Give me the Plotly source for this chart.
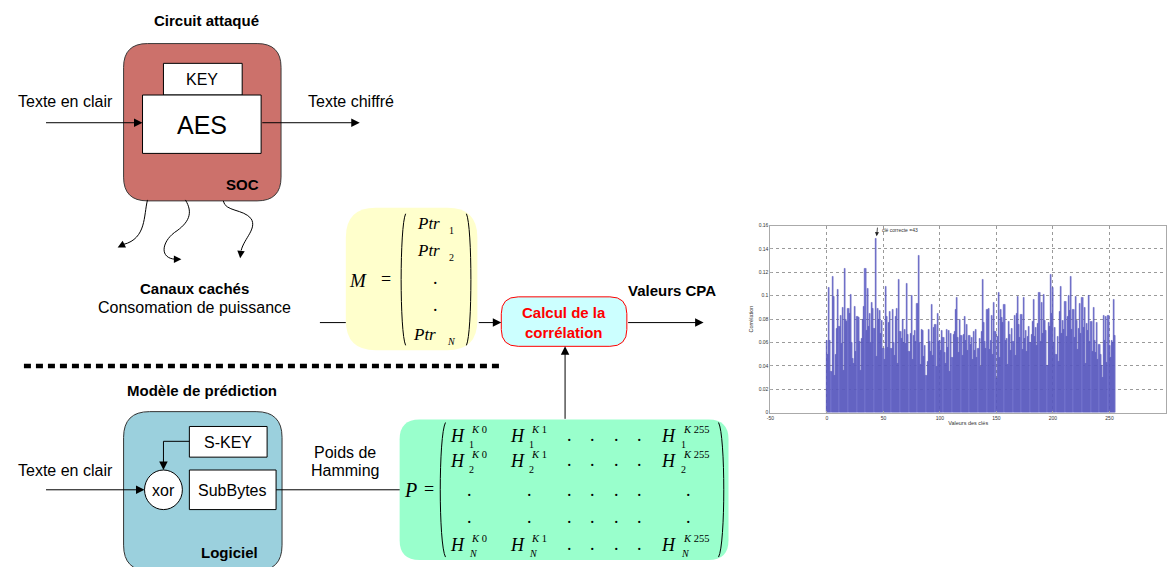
import plotly.graph_objects as go

W, H = 1168, 567

# ---------------- data of the inset CPA chart ----------------
key_values = list(range(256))
correlation = [
    0.062, 0.050, 0.107, 0.062, 0.035, 0.116, 0.099, 0.032, 0.050, 0.072,
    0.105, 0.074, 0.083, 0.059, 0.090, 0.036, 0.123, 0.080, 0.078, 0.089,
    0.085, 0.101, 0.060, 0.046, 0.042, 0.091, 0.052, 0.082, 0.081, 0.061,
    0.036, 0.063, 0.080, 0.091, 0.123, 0.070, 0.106, 0.074, 0.085, 0.060,
    0.094, 0.089, 0.072, 0.149, 0.048, 0.089, 0.080, 0.087, 0.068, 0.079,
    0.055, 0.045, 0.108, 0.082, 0.056, 0.077, 0.086, 0.055, 0.088, 0.060,
    0.049, 0.082, 0.089, 0.042, 0.114, 0.069, 0.063, 0.080, 0.060, 0.071,
    0.059, 0.110, 0.067, 0.052, 0.068, 0.100, 0.045, 0.066, 0.070, 0.061,
    0.093, 0.134, 0.060, 0.041, 0.071, 0.070, 0.048, 0.057, 0.032, 0.044,
    0.071, 0.061, 0.052, 0.092, 0.049, 0.073, 0.075, 0.039, 0.085, 0.061,
    0.062, 0.053, 0.070, 0.064, 0.051, 0.042, 0.071, 0.056, 0.070, 0.035,
    0.068, 0.047, 0.067, 0.069, 0.088, 0.098, 0.064, 0.051, 0.080, 0.066,
    0.049, 0.067, 0.082, 0.062, 0.075, 0.053, 0.066, 0.058, 0.064, 0.045,
    0.069, 0.053, 0.071, 0.047, 0.055, 0.063, 0.039, 0.069, 0.114, 0.077,
    0.061, 0.055, 0.088, 0.089, 0.054, 0.062, 0.083, 0.050, 0.094, 0.069,
    0.029, 0.065, 0.103, 0.047, 0.088, 0.081, 0.077, 0.092, 0.062, 0.063,
    0.041, 0.078, 0.067, 0.053, 0.072, 0.061, 0.083, 0.049, 0.085, 0.099,
    0.075, 0.064, 0.084, 0.054, 0.098, 0.063, 0.070, 0.052, 0.065, 0.074,
    0.060, 0.067, 0.078, 0.097, 0.065, 0.073, 0.057, 0.076, 0.103, 0.061,
    0.094, 0.068, 0.101, 0.079, 0.070, 0.040, 0.077, 0.074, 0.118, 0.085,
    0.107, 0.060, 0.073, 0.050, 0.065, 0.044, 0.086, 0.108, 0.068, 0.079,
    0.071, 0.095, 0.065, 0.082, 0.100, 0.087, 0.116, 0.071, 0.088, 0.064,
    0.099, 0.079, 0.054, 0.072, 0.093, 0.068, 0.098, 0.073, 0.090, 0.042,
    0.076, 0.070, 0.100, 0.061, 0.078, 0.052, 0.090, 0.062, 0.051, 0.077,
    0.045, 0.058, 0.050, 0.040, 0.030, 0.083, 0.062, 0.082, 0.043, 0.083,
    0.057, 0.047, 0.062, 0.060, 0.097, 0.066,
]
x_ticks = [-50, 0, 50, 100, 150, 200, 250, 300]
x_tick_labels = ["-50", "0", "50", "100", "150", "200", "250", "300"]
y_ticks = [0, 0.02, 0.04, 0.06, 0.08, 0.10, 0.12, 0.14, 0.16]
y_tick_labels = ["0", "0.02", "0.04", "0.06", "0.08", "0.1", "0.12", "0.14", "0.16"]
correct_key = 43
correct_label = "clé correcte =43"

SANS = "Liberation Sans, Arial, sans-serif"
SERIF = "Liberation Serif, Times New Roman, serif"


def X(px):
    return px / W


def Y(py):
    return 1 - py / H


def pt(x, y):
    return f"{X(x):.5f},{Y(y):.5f}"


def rrect_path(x0, y0, x1, y1, r):
    return (f"M {pt(x0 + r, y0)} L {pt(x1 - r, y0)} Q {pt(x1, y0)} {pt(x1, y0 + r)} "
            f"L {pt(x1, y1 - r)} Q {pt(x1, y1)} {pt(x1 - r, y1)} "
            f"L {pt(x0 + r, y1)} Q {pt(x0, y1)} {pt(x0, y1 - r)} "
            f"L {pt(x0, y0 + r)} Q {pt(x0, y0)} {pt(x0 + r, y0)} Z")


shapes = []
annotations = []


def add_rrect(x0, y0, x1, y1, r, fill, line=None, lw=1):
    shapes.append(dict(type="path", xref="paper", yref="paper", path=rrect_path(x0, y0, x1, y1, r),
                       fillcolor=fill, line=dict(color=line or fill, width=lw if line else 0), layer="above"))


def add_rect(x0, y0, x1, y1, fill="white", line="black", lw=1):
    shapes.append(dict(type="rect", xref="paper", yref="paper", x0=X(x0), x1=X(x1), y0=Y(y1), y1=Y(y0),
                       fillcolor=fill, line=dict(color=line, width=lw), layer="above"))


def add_line(x0, y0, x1, y1, color="black", lw=1, dash=None):
    d = dict(color=color, width=lw)
    if dash:
        d["dash"] = dash
    shapes.append(dict(type="line", xref="paper", yref="paper", x0=X(x0), y0=Y(y0), x1=X(x1), y1=Y(y1),
                       line=d, layer="above"))


def add_path(path, lw=1, color="black"):
    shapes.append(dict(type="path", xref="paper", yref="paper", path=path,
                       line=dict(color=color, width=lw), layer="above"))


def add_arrow(x0, y0, x1, y1, size=1.7):
    annotations.append(dict(xref="paper", yref="paper", x=X(x1), y=Y(y1), ax=x0 - x1, ay=y0 - y1,
                            axref="pixel", ayref="pixel", text="", showarrow=True,
                            arrowhead=2, arrowsize=size, arrowwidth=1, arrowcolor="black", standoff=0))


def add_text(x, y, text, size=16, color="black", family=SANS, xanchor="center"):
    annotations.append(dict(xref="paper", yref="paper", x=X(x), y=Y(y), text=text, showarrow=False,
                            xanchor=xanchor, yanchor="middle",
                            font=dict(size=size, color=color, family=family)))


# ---------------- top: attacked circuit ----------------
add_text(203, 18, "<b>Circuit attaqué</b>", 15)
add_rrect(120, 41, 278, 200, 24, "#CC716B", "#3a3a3a", 1)
add_rect(160, 61, 239, 93)
add_rect(139, 93, 258, 152)
add_text(199, 77, "KEY", 16)
add_text(199, 123, "AES", 25)
add_text(239, 183, "<b>SOC</b>", 15)
add_text(62, 100, "Texte en clair", 16)
add_text(348, 100, "Texte chiffré", 16)
add_arrow(41, 121, 139, 121)
add_arrow(258, 121, 357, 121)

# wavy side channel arrows
add_path(f"M {pt(144, 199)} C {pt(140, 215)} {pt(143, 238)} {pt(120, 244)}")
add_arrow(122, 243, 114, 247, 1.5)
add_path(f"M {pt(182, 199)} C {pt(190, 212)} {pt(186, 222)} {pt(171, 232)} C {pt(158, 242)} {pt(156, 258)} {pt(172, 259)}")
add_arrow(170, 259, 178, 259, 1.5)
add_path(f"M {pt(220, 200)} C {pt(222, 211)} {pt(240, 208)} {pt(248, 218)} C {pt(254, 228)} {pt(241, 238)} {pt(238, 250)}")
add_arrow(238, 249, 237, 258, 1.5)
add_text(191, 289, "<b>Canaux cachés</b>", 15)
add_text(191, 308, "Consomation de puissance", 16)

# measurement matrix M
add_line(317, 323, 343, 323)
add_rrect(343, 207, 475, 351, 30, "#FFFFCC")
add_path(f"M {pt(403, 213)} C {pt(397, 226)} {pt(397, 333)} {pt(403, 346)}")
add_path(f"M {pt(464, 213)} C {pt(470, 226)} {pt(470, 333)} {pt(464, 346)}")
add_text(355, 280, "<i>M</i>", 19, family=SERIF)
add_text(383, 279, "=", 18, family=SERIF)
for (px, py, sub) in [(426, 223, "1"), (426, 250, "2"), (422, 335, "<i>N</i>")]:
    add_text(px, py, "<i>Ptr</i>", 17, family=SERIF)
    add_text(449, py + 7, sub, 10, family=SERIF)
add_text(433, 277.5, ".", 18, family=SERIF)
add_text(433, 305.5, ".", 18, family=SERIF)

# correlation block
add_arrow(475, 323, 499, 323)
add_rrect(499, 297, 625, 347, 17, "#CCFFFF", "#FF0000", 1)
add_text(562, 313, "<b>Calcul de la</b>", 15, color="#FF0000")
add_text(562, 333, "<b>corrélation</b>", 15, color="#FF0000")
add_arrow(625, 323, 702, 323)
add_text(670, 291, "<b>Valeurs CPA</b>", 15)

# separator
add_line(20, 367, 497, 367, lw=4.5, dash="7px,5px")

# ---------------- bottom: prediction model ----------------
add_text(199, 392, "<b>Modèle de prédiction</b>", 15)
add_rrect(120, 413, 279, 574, 26, "#9BD0DD", "#333333", 1)
add_rect(186, 428, 264, 459)
add_rect(186, 472, 273, 512)
shapes.append(dict(type="circle", xref="paper", yref="paper", x0=X(141), x1=X(179), y0=Y(512), y1=Y(472),
                   fillcolor="white", line=dict(color="black", width=1), layer="above"))
add_text(225, 444, "S-KEY", 16)
add_text(160, 493, "xor", 16)
add_text(229, 493, "SubBytes", 16)
add_text(226, 555, "<b>Logiciel</b>", 15)
add_path(f"M {pt(186, 443)} L {pt(160, 443)} L {pt(160, 462)}")
add_arrow(160, 460, 160, 472)
add_text(62, 473, "Texte en clair", 16)
add_arrow(41, 492, 141, 492)
add_line(273, 492, 398, 492)
add_text(342, 454, "Poids de", 16)
add_text(342, 473, "Hamming", 16)

# prediction matrix P
add_rrect(397, 421, 727, 563, 20, "#99FFCC")
add_path(f"M {pt(443, 424)} C {pt(436, 437)} {pt(436, 547)} {pt(443, 560)}")
add_path(f"M {pt(717, 424)} C {pt(724, 437)} {pt(724, 547)} {pt(717, 560)}")
add_text(408, 492, "<i>P</i>", 20, family=SERIF)
add_text(426, 491, "=", 18, family=SERIF)
h_cols = [(455, "<i>K</i> 0"), (515, "<i>K</i> 1"), (667, "<i>K</i> 255")]
h_rows = [(438, "1"), (463, "2"), (548, "<i>N</i>")]
dot_cols = [567, 591, 615, 638]
for hy, sub in h_rows:
    for hx, sup in h_cols:
        add_text(hx, hy, "<i>H</i>", 18, family=SERIF)
        add_text(hx + 12, hy - 7, sup, 10.5, family=SERIF, xanchor="left")
        add_text(hx + 10, hy + 8, sub, 10, family=SERIF, xanchor="left")
    for dx in dot_cols:
        add_text(dx, hy - 1, ".", 18, family=SERIF)
for dy in [497, 525]:
    for dx in [467, 527] + dot_cols + [687]:
        add_text(dx, dy - 5, ".", 18, family=SERIF)
add_arrow(563, 421, 563, 347)

# ---------------- inset bar chart ----------------
fig = go.Figure()
fig.add_trace(go.Bar(
    x=key_values, y=correlation, width=1,
    marker=dict(color="rgb(120,120,210)", line=dict(color="rgb(60,60,170)", width=0.4)),
    xaxis="x2", yaxis="y2", showlegend=False, hoverinfo="x+y",
))

tick_font = dict(size=5, color="#333333", family=SANS)
annotations.append(dict(xref="x2", yref="y2", x=correct_key + 1, y=0.151, ax=1, ay=-10,
                        axref="pixel", ayref="pixel", text="", showarrow=True,
                        arrowhead=2, arrowsize=1, arrowwidth=0.8, arrowcolor="#222", standoff=0))
annotations.append(dict(xref="x2", yref="y2", x=correct_key + 4, y=0.156, text=correct_label,
                        showarrow=False, xanchor="left", yanchor="middle",
                        font=dict(size=5, color="#333333", family=SANS)))

fig.update_layout(
    width=W, height=H,
    margin=dict(l=0, r=0, t=0, b=0),
    paper_bgcolor="white", plot_bgcolor="white",
    shapes=shapes, annotations=annotations,
    bargap=0,
    xaxis2=dict(domain=[X(769), X(1166)], anchor="y2", range=[-50, 300],
                tickvals=x_ticks, ticktext=x_tick_labels, tickfont=tick_font,
                showgrid=True, gridcolor="#9a9a9a", griddash="dot", gridwidth=0.6,
                showline=True, linecolor="#aaaaaa", linewidth=1, mirror=True, zeroline=False,
                ticks="inside", ticklen=2, tickcolor="#aaaaaa",
                title=dict(text="Valeurs des clés", font=dict(size=5.5, color="#333", family=SANS), standoff=1)),
    yaxis2=dict(domain=[Y(414), Y(225)], anchor="x2", range=[0, 0.16],
                tickvals=y_ticks, ticktext=y_tick_labels, tickfont=tick_font,
                showgrid=True, gridcolor="#9a9a9a", griddash="dot", gridwidth=0.6,
                showline=True, linecolor="#aaaaaa", linewidth=1, mirror=True, zeroline=False,
                ticks="inside", ticklen=2, tickcolor="#aaaaaa",
                title=dict(text="Corrélation", font=dict(size=5.5, color="#333", family=SANS), standoff=4)),
)

fig.write_html("out.html",
               config={"displayModeBar": False},
               post_script="document.body.style.margin='0';document.body.style.overflow='hidden';")
